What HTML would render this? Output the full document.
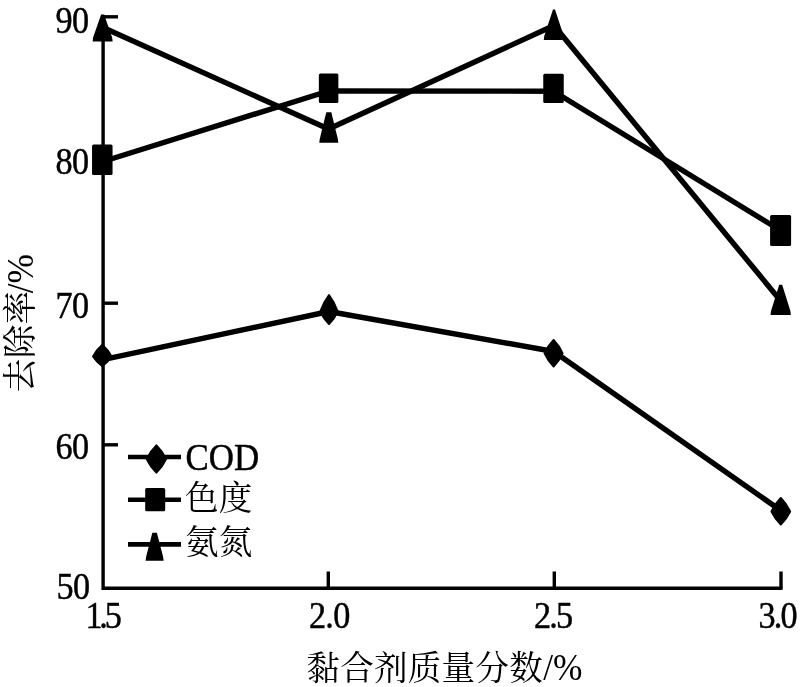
<!DOCTYPE html>
<html lang="zh"><head><meta charset="utf-8"><title>chart</title>
<style>
html,body{margin:0;padding:0;background:#fff;}
body{width:800px;height:687px;overflow:hidden;}
svg{display:block;}
text{font-family:"Liberation Serif","Noto Serif CJK SC",serif;fill:#000;}
.t{stroke:#000;stroke-width:0.45px;stroke-linejoin:round;}
.c{font-size:33.6px;letter-spacing:0.25px;}
</style></head><body>
<svg width="800" height="687" viewBox="0 0 800 687">
<rect width="800" height="687" fill="#fff"/>

<g stroke="#000" stroke-width="3.4" fill="none" stroke-linecap="butt">
<path d="M103.1,15 V588.3 H782.5"/>
<path d="M103,16.8 H118"/>
<path d="M103,303.2 H118"/>
<path d="M103,444.8 H118"/>
<path d="M328.3,571.5 V588.5"/>
<path d="M554.3,571.5 V588.5"/>
<path d="M781,571.5 V588.5"/>
</g>
<g stroke="#000" stroke-width="5.4" fill="none" stroke-linejoin="round">
<polyline points="103,359.6 329,311.5 553.7,351.5 780.8,510.5"/>
<polyline points="103,161.5 328.6,91 553.5,91.2 780.6,230.5"/>
<polyline points="103,27.5 328.5,129 554,25.5 780.8,301"/>
</g>
<path d="M102.3,344.8 Q108.03,349.83 111.55,356.5 Q108.03,362.03 102.3,366.2 Q96.56,362.03 93.05,356.5 Q96.56,349.83 102.3,344.8 Z" fill="#000" stroke="#000" stroke-width="2" stroke-linejoin="round"/>
<path d="M329,295.0 Q334.43,302.10 337.75,311.5 Q334.43,318.62 329,324.0 Q323.57,318.62 320.25,311.5 Q323.57,302.10 329,295.0 Z" fill="#000" stroke="#000" stroke-width="2" stroke-linejoin="round"/>
<path d="M553.6,340.0 Q559.18,345.72 562.6,353.3 Q559.18,360.82 553.6,366.5 Q548.02,360.82 544.6,353.3 Q548.02,345.72 553.6,340.0 Z" fill="#000" stroke="#000" stroke-width="2" stroke-linejoin="round"/>
<path d="M780.8,498.0 Q786.60,503.85 790.15,511.6 Q786.60,518.95 780.8,524.5 Q775.00,518.95 771.45,511.6 Q775.00,503.85 780.8,498.0 Z" fill="#000" stroke="#000" stroke-width="2" stroke-linejoin="round"/>
<rect x="92.05" y="144.45" width="20.5" height="30.5" rx="1.5" fill="#000"/>
<rect x="318.85" y="73.55" width="19.5" height="29.5" rx="1.5" fill="#000"/>
<rect x="543.25" y="73.75" width="20.5" height="29.3" rx="1.5" fill="#000"/>
<rect x="770.1" y="215.1" width="21" height="31" rx="1.5" fill="#000"/>
<polygon points="92.6,41.5 112.6,41.5 112.1,37.5 104.1,14.5 101.1,14.5 93.1,37.5" fill="#000"/>
<polygon points="319.3,142.8 338.3,142.8 337.8,138.8 331.3,112.2 326.3,112.2 319.8,138.8" fill="#000"/>
<polygon points="543.75,40.1 564.25,40.1 563.75,36.1 555.0,9.6 553.0,9.6 544.25,36.1" fill="#000"/>
<polygon points="770.5,315 790.9,315 790.4,311 782.2,284.8 779.2,284.8 771.0,311" fill="#000"/>
<g stroke="#000" stroke-width="4.6"><path d="M128,457 H181"/><path d="M128,499.7 H181"/><path d="M128,544.4 H181"/></g>
<path d="M156.4,445.5 Q162.35,451.31 166.0,459 Q162.35,466.69 156.4,472.5 Q150.45,466.69 146.8,459 Q150.45,451.31 156.4,445.5 Z" fill="#000" stroke="#000" stroke-width="2.2" stroke-linejoin="round"/>
<rect x="145.2" y="488.05" width="20" height="23.3" rx="1.5" fill="#000"/>
<polygon points="145.6,560.8 163.6,560.8 163.1,556.8 156.85,532.7 152.35,532.7 146.1,556.8" fill="#000"/>
<text class="t" transform="translate(185.5,469.8) scale(0.935,1)" font-size="37.3" letter-spacing="0">COD</text>
<text class="c" x="185" y="510">色度</text>
<text class="c" x="185" y="554">氨氮</text>
<text class="t" transform="translate(55.4,32.7) scale(0.925,1)" font-size="37" letter-spacing="-0.6">90</text>
<text class="t" transform="translate(55.4,173.7) scale(0.925,1)" font-size="37" letter-spacing="-0.6">80</text>
<text class="t" transform="translate(55.4,317.7) scale(0.925,1)" font-size="37" letter-spacing="-0.6">70</text>
<text class="t" transform="translate(55.4,458.7) scale(0.925,1)" font-size="37" letter-spacing="-0.6">60</text>
<text class="t" transform="translate(56.4,598.8) scale(0.925,1)" font-size="37" letter-spacing="-0.6">50</text>
<text class="t" transform="translate(85.5,627.6) scale(0.925,1)" font-size="37" letter-spacing="-3.5">1.5</text>
<text class="t" transform="translate(309,627.6) scale(0.925,1)" font-size="37" letter-spacing="-0.8">2.0</text>
<text class="t" transform="translate(534,627.6) scale(0.925,1)" font-size="37" letter-spacing="-2">2.5</text>
<text class="t" transform="translate(758.5,627.6) scale(0.925,1)" font-size="37" letter-spacing="-2">3.0</text>
<text class="c" x="306.3" y="680.2">黏合剂质量分数</text>
<text class="u" transform="translate(543.3,680.4) scale(0.955,1)" font-size="37" letter-spacing="0">/%</text>
<g transform="translate(31.6,392.2) rotate(-90)">
<text class="c" x="0" y="0">去除率</text>
<text class="u" transform="translate(98.9,1.4) scale(0.955,1)" font-size="37" letter-spacing="0">/%</text>
</g>
</svg></body></html>
